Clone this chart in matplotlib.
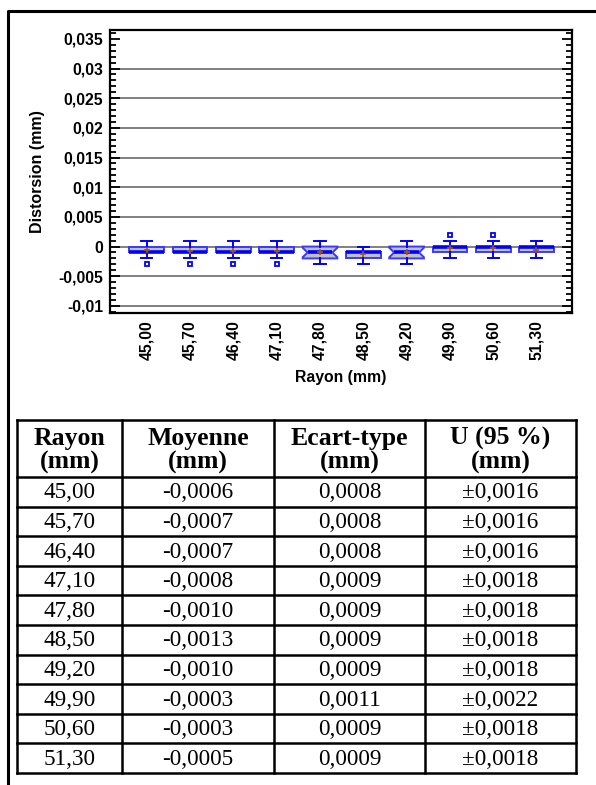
import matplotlib
matplotlib.use("Agg")
import matplotlib.pyplot as plt
import numpy as np
from matplotlib.ticker import FixedLocator, MultipleLocator, FuncFormatter
from matplotlib.lines import Line2D
from matplotlib.path import Path

# ---- data -------------------------------------------------------------
rayons = ["45,00", "45,70", "46,40", "47,10", "47,80",
          "48,50", "49,20", "49,90", "50,60", "51,30"]
q1 = [-0.001, -0.001, -0.001, -0.001, -0.002, -0.002, -0.002, -0.001, -0.001, -0.001]
med = [-0.001, -0.001, -0.001, -0.001, -0.001, -0.001, -0.001, 0.0, 0.0, 0.0]
q3 = [0.0, 0.0, 0.0, 0.0, 0.0, -0.001, 0.0, 0.0, 0.0, 0.0]
whislo = [-0.002, -0.002, -0.002, -0.002, -0.003, -0.003, -0.003, -0.002, -0.002, -0.002]
whishi = [0.001, 0.001, 0.001, 0.001, 0.001, 0.0, 0.001, 0.001, 0.001, 0.001]
fliers = [[-0.003], [-0.003], [-0.003], [-0.003], [], [], [], [0.002], [0.002], []]
notched = [False, False, False, False, True, False, True, False, False, False]
moyenne = [-0.0006, -0.0007, -0.0007, -0.0008, -0.0010,
           -0.0013, -0.0010, -0.0003, -0.0003, -0.0005]
ecart = [0.0008, 0.0008, 0.0008, 0.0009, 0.0009,
         0.0009, 0.0009, 0.0011, 0.0009, 0.0009]
incert = [0.0016, 0.0016, 0.0016, 0.0018, 0.0018,
          0.0018, 0.0018, 0.0022, 0.0018, 0.0018]

y_major = [-0.01, -0.005, 0.0, 0.005, 0.01, 0.015, 0.02, 0.025, 0.03, 0.035]
table_header = ["Rayon\n(mm)", "Moyenne\n(mm)", "Ecart-type\n(mm)", "U (95 %)\n(mm)"]


def fr(v, nd):
    return f"{v:.{nd}f}".replace(".", ",")


# ---- figure -----------------------------------------------------------
W, H = 596, 785
fig = plt.figure(figsize=(W / 100, H / 100), dpi=100)
sans = ["Liberation Sans", "DejaVu Sans"]
serif = ["Liberation Serif", "DejaVu Serif"]


def px(x0, y0, x1, y1):
    return [x0 / W, 1 - y1 / H, (x1 - x0) / W, (y1 - y0) / H]


ax = fig.add_axes(px(110, 30, 572, 313))

blue = "#0000ff"
edge_blue = "#3a3aff"
box_w = 0.8
waist = 0.36          # half-width of the notch waist, in box widths
for i in range(len(rayons)):
    pos = i + 1
    st = dict(med=med[i], q1=q1[i], q3=q3[i], whislo=whislo[i], whishi=whishi[i],
              mean=moyenne[i], fliers=fliers[i],
              cilo=med[i] - 0.0008, cihi=med[i] + 0.0008)
    art = ax.bxp([st], positions=[pos], widths=box_w, capwidths=0.26,
                 shownotches=notched[i], showmeans=True, patch_artist=True,
                 boxprops=dict(facecolor="#c0c0c0", edgecolor=edge_blue, linewidth=1.4),
                 medianprops=dict(color=blue, linewidth=2.6),
                 whiskerprops=dict(color=blue, linewidth=1.4),
                 capprops=dict(color=blue, linewidth=1.4),
                 meanprops=dict(marker="+", markeredgecolor="#a0522d", markersize=4,
                                markeredgewidth=1.2),
                 flierprops=dict(marker="s", markerfacecolor="none", markeredgecolor=blue,
                                 markersize=3.5, markeredgewidth=1.3),
                 manage_ticks=False, zorder=3)
    if notched[i]:
        # shallower notch waist
        patch = art["boxes"][0]
        verts = patch.get_path().vertices.copy()
        at_waist = np.isclose(verts[:, 1], med[i])
        verts[at_waist, 0] = pos + np.sign(verts[at_waist, 0] - pos) * box_w * waist
        patch.set_path(Path(verts, patch.get_path().codes))
        art["medians"][0].set_xdata([pos - box_w * waist, pos + box_w * waist])

for v in y_major[:-1]:
    ax.axhline(v, color="#808080", linewidth=1.4, zorder=1)

ax.set_xlim(0.15, 10.82)
ax.set_ylim(-0.0112, 0.0365)
ax.yaxis.set_major_locator(FixedLocator(y_major))
ax.yaxis.set_minor_locator(MultipleLocator(0.001))
ax.yaxis.set_major_formatter(FuncFormatter(lambda v, p: ("%g" % round(v, 4)).replace(".", ",")))
ax.tick_params(axis="y", which="both", direction="in", left=True, right=True,
               color="black", width=1.3)
ax.tick_params(axis="y", which="major", length=7, pad=5)
ax.tick_params(axis="y", which="minor", length=4)
ax.set_xticks(range(1, len(rayons) + 1))
ax.set_xticklabels(rayons, rotation=90)
ax.tick_params(axis="x", length=0, pad=5)
for lab in ax.get_xticklabels() + ax.get_yticklabels():
    lab.set_fontfamily(sans)
    lab.set_fontweight("bold")
    lab.set_fontsize(11.3)
for s in ax.spines.values():
    s.set_linewidth(1.6)
ax.set_xlabel("Rayon (mm)", family=sans, fontweight="bold", fontsize=11.3, labelpad=7)
ax.set_ylabel("Distorsion (mm)", family=sans, fontweight="bold", fontsize=11.5,
              va="center")
ax.yaxis.set_label_coords(-0.158, 0.5)

# ---- page frame and table ----------------------------------------------
ov = fig.add_axes([0, 0, 1, 1])
ov.set_xlim(0, W)
ov.set_ylim(H, 0)
ov.axis("off")
ov.add_line(Line2D([7.5, 7.5, W + 5], [H + 5, 10.5, 10.5], color="black", linewidth=2.2))

cols = [17, 122, 274, 425, 576]
row_top, head_bot, row_h = 420, 477, 29.6
n = len(rayons)
bottom = head_bot + n * row_h
for xc in cols:
    ov.add_line(Line2D([xc, xc], [row_top, bottom], color="black", linewidth=1.8))
ov.add_line(Line2D([cols[0], cols[-1]], [row_top, row_top], color="black", linewidth=1.8))
for k in range(n + 1):
    yy = head_bot + k * row_h
    ov.add_line(Line2D([cols[0], cols[-1]], [yy, yy], color="black", linewidth=1.8))

centers = [(cols[j] + cols[j + 1]) / 2 for j in range(4)]
for j, t in enumerate(table_header):
    ov.text(centers[j], (row_top + head_bot) / 2 + 2, t, ha="center", va="center",
            family=serif, fontweight="bold", fontsize=18.5, linespacing=1.05)
for k in range(n):
    yc = head_bot + (k + 0.5) * row_h
    cells = [rayons[k], fr(moyenne[k], 4), fr(ecart[k], 4), "±" + fr(incert[k], 4)]
    for j, t in enumerate(cells):
        ov.text(centers[j], yc + 1, t, ha="center", va="center", family=serif, fontsize=16.7)

fig.savefig("out.png", dpi=100)
